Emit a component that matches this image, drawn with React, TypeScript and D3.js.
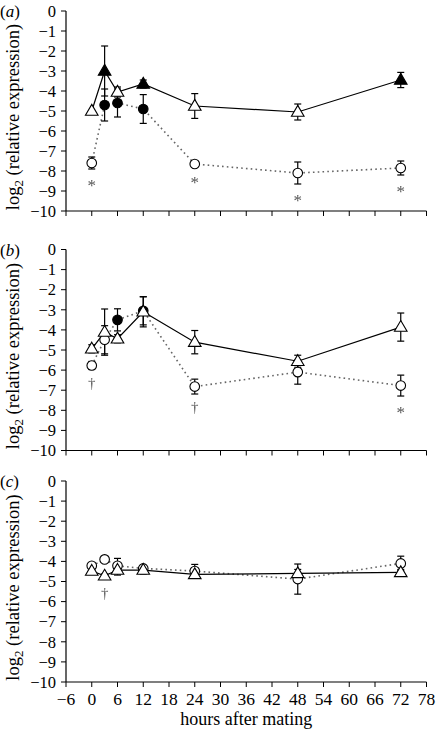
import React from "react";
import * as d3 from "d3";

const hours = [0, 3, 6, 12, 24, 48, 72];
const xTicks = [-6, 0, 6, 12, 18, 24, 30, 36, 42, 48, 54, 60, 66, 72, 78];
const yTicks = [0, -1, -2, -3, -4, -5, -6, -7, -8, -9, -10];
const panelLabels = ["a", "b", "c"];

// panel (a)
const triA = [-5.0, -3.0, -4.05, -3.65, -4.75, -5.05, -3.45];
const triAErr = [0.0, 1.25, 0.25, 0.2, 0.62, 0.4, 0.38];
const triAFilled = [false, true, false, true, false, false, true];
const circA = [-7.6, -4.7, -4.6, -4.9, -7.65, -8.1, -7.85];
const circAErr = [0.3, 0.8, 0.7, 0.72, 0.1, 0.55, 0.35];
const circAFilled = [false, true, true, true, false, false, false];
const marksA = ["*", "", "", "", "*", "*", "*"];
const marksATri = ["", "", "", "", "", "", ""];

// panel (b)
const triB = [-4.94, -4.11, -4.44, -3.1, -4.61, -5.56, -3.86];
const triBErr = [0.2, 1.15, 0.2, 0.75, 0.58, 0.3, 0.7];
const triBFilled = [false, false, false, false, false, false, false];
const circB = [-5.77, -4.49, -3.5, -3.05, -6.82, -6.1, -6.77];
const circBErr = [0.2, 0.7, 0.55, 0.7, 0.37, 0.6, 0.52];
const circBFilled = [false, false, true, true, false, false, false];
const marksB = ["†", "", "", "", "†", "", "*"];
const marksBTri = ["", "", "", "", "", "", ""];

// panel (c)
const triC = [-4.48, -4.72, -4.43, -4.43, -4.65, -4.6, -4.55];
const triCErr = [0.1, 0.1, 0.25, 0.2, 0.15, 0.2, 0.15];
const triCFilled = [false, false, false, false, false, false, false];
const circC = [-4.22, -3.9, -4.22, -4.35, -4.48, -4.88, -4.1];
const circCErr = [0.1, 0.05, 0.37, 0.15, 0.33, 0.75, 0.36];
const circCFilled = [false, false, false, false, false, false, false];
const marksC = ["", "", "", "", "", "", ""];
const marksCTri = ["", "†", "", "", "", "", ""];

const panels = [
  { label: panelLabels[0], top: 11, bottom: 211, tri: triA, triErr: triAErr, triFilled: triAFilled, circ: circA, circErr: circAErr, circFilled: circAFilled, marks: marksA, marksTri: marksATri, showX: false },
  { label: panelLabels[1], top: 249.5, bottom: 450.5, tri: triB, triErr: triBErr, triFilled: triBFilled, circ: circB, circErr: circBErr, circFilled: circBFilled, marks: marksB, marksTri: marksBTri, showX: false },
  { label: panelLabels[2], top: 481, bottom: 682, tri: triC, triErr: triCErr, triFilled: triCFilled, circ: circC, circErr: circCErr, circFilled: circCFilled, marks: marksC, marksTri: marksCTri, showX: true },
];

const x = d3.scaleLinear().domain([-6, 78]).range([66, 426.5]);

function fmt(v: number) {
  return v < 0 ? "\u2212" + Math.abs(v) : String(v);
}

const markStyle = { filter: "grayscale(1)" };

function Panel({ p }: { p: any }) {
  const y = d3.scaleLinear().domain([0, -10]).range([p.top, p.bottom]);
  const line = d3.line<number>().x((_, i) => x(hours[i])).y((d) => y(d));
  const tri = "M0,-6.6L6.3,4.2L-6.3,4.2Z";
  const cap = 3.5;
  const midY = (p.top + p.bottom) / 2;
  return (
    <g>
      <line x1={x(-6)} x2={x(-6)} y1={y(0)} y2={y(-10)} stroke="#000" strokeWidth={1.2} />
      <line x1={x(-6)} x2={x(78)} y1={y(-10)} y2={y(-10)} stroke="#000" strokeWidth={1.2} />
      {yTicks.map((t) => (
        <g key={"yt" + t}>
          <line x1={x(-6) - 5} x2={x(-6)} y1={y(t)} y2={y(t)} stroke="#000" strokeWidth={1} />
          <text x={56} y={y(t)} dy="0.35em" textAnchor="end" fontSize={16.5}>{fmt(t)}</text>
        </g>
      ))}
      {xTicks.map((t) => (
        <g key={"xt" + t}>
          <line x1={x(t)} x2={x(t)} y1={y(-10)} y2={y(-10) + 5} stroke="#000" strokeWidth={1} />
          {p.showX && (
            <text x={x(t)} y={705} textAnchor="middle" fontSize={17.5}>{fmt(t)}</text>
          )}
        </g>
      ))}
      <text transform={`translate(19,${midY + 6}) rotate(-90)`} textAnchor="middle" fontSize={18.5}>
        log<tspan dy={4} fontSize={13}>2</tspan><tspan dy={-4}> (relative expression)</tspan>
      </text>
      <text x={0} y={p.top + 6} fontSize={17}>(<tspan fontStyle="italic">{p.label}</tspan>)</text>

      <path d={line(p.circ) || ""} fill="none" stroke="#666" strokeWidth={1.6} strokeDasharray="1.6,3.2" />
      <path d={line(p.tri) || ""} fill="none" stroke="#000" strokeWidth={1.2} />

      {hours.map((h, i) => (
        <g key={"eb" + i} stroke="#000" strokeWidth={1.2}>
          {p.triErr[i] > 0 && (
            <g>
              <line x1={x(h)} x2={x(h)} y1={y(p.tri[i] + p.triErr[i])} y2={y(p.tri[i] - p.triErr[i])} />
              <line x1={x(h) - cap} x2={x(h) + cap} y1={y(p.tri[i] + p.triErr[i])} y2={y(p.tri[i] + p.triErr[i])} />
              <line x1={x(h) - cap} x2={x(h) + cap} y1={y(p.tri[i] - p.triErr[i])} y2={y(p.tri[i] - p.triErr[i])} />
            </g>
          )}
          {p.circErr[i] > 0 && (
            <g>
              <line x1={x(h)} x2={x(h)} y1={y(p.circ[i] + p.circErr[i])} y2={y(p.circ[i] - p.circErr[i])} />
              <line x1={x(h) - cap} x2={x(h) + cap} y1={y(p.circ[i] + p.circErr[i])} y2={y(p.circ[i] + p.circErr[i])} />
              <line x1={x(h) - cap} x2={x(h) + cap} y1={y(p.circ[i] - p.circErr[i])} y2={y(p.circ[i] - p.circErr[i])} />
            </g>
          )}
        </g>
      ))}

      {hours.map((h, i) => (
        <circle key={"c" + i} cx={x(h)} cy={y(p.circ[i])} r={4.8} fill={p.circFilled[i] ? "#000" : "#fff"} stroke="#000" strokeWidth={1.1} />
      ))}
      {hours.map((h, i) => (
        <path key={"t" + i} d={tri} transform={`translate(${x(h)},${y(p.tri[i])})`} fill={p.triFilled[i] ? "#000" : "#fff"} stroke="#000" strokeWidth={1.1} />
      ))}

      {hours.map((h, i) =>
        p.marks[i] ? (
          <text key={"m" + i} x={x(h)} y={y(p.circ[i] - p.circErr[i] - 0.65)} dy={p.marks[i] === "*" ? "0.5em" : "0.35em"} textAnchor="middle" fontSize={p.marks[i] === "*" ? 17 : 15} fill="#555" style={markStyle}>{p.marks[i]}</text>
        ) : null
      )}
      {hours.map((h, i) =>
        p.marksTri[i] ? (
          <text key={"mt" + i} x={x(h)} y={y(p.tri[i] - p.triErr[i] - 0.75)} dy="0.35em" textAnchor="middle" fontSize={15} fill="#555" style={markStyle}>{p.marksTri[i]}</text>
        ) : null
      )}
    </g>
  );
}

export default function App() {
  return (
    <svg width={436} height={732} style={{ position: "absolute", left: 0, top: 0, background: "#fff", fontFamily: "'Liberation Serif', 'DejaVu Serif', serif" }}>
      <rect width={436} height={732} fill="#fff" />
      {panels.map((p) => (
        <Panel key={p.label} p={p} />
      ))}
      <text x={(x(-6) + x(78)) / 2} y={725} textAnchor="middle" fontSize={18}>hours after mating</text>
    </svg>
  );
}
